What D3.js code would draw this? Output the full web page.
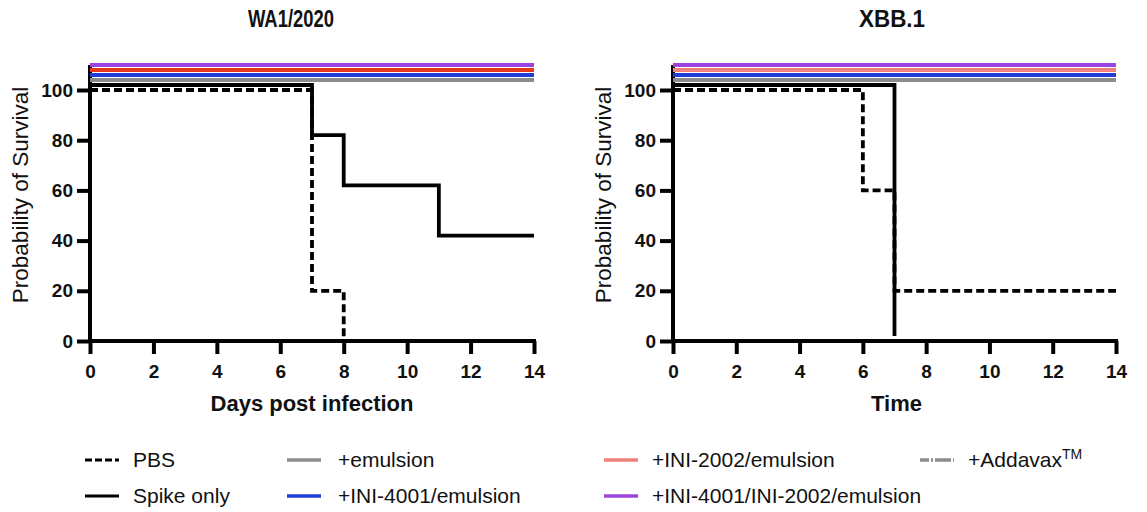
<!DOCTYPE html>
<html><head><meta charset="utf-8">
<script src="https://cdn.jsdelivr.net/npm/d3@7"></script>
<style>body{margin:0;background:#fff}svg{display:block}</style>
</head><body>
<svg id="c" width="1147" height="512"></svg>
<script>
// ---- data ----
const panelTitles = ["WA1/2020", "XBB.1"];
const xTitles = ["Days post infection", "Time"];
const xTicks = [0, 2, 4, 6, 8, 10, 12, 14];
const yTicks = [0, 20, 40, 60, 80, 100];
const groups = ["PBS", "Spike only", "+emulsion", "+INI-4001/emulsion", "+INI-2002/emulsion", "+INI-4001/INI-2002/emulsion", "+Addavax"];
// visual stacking offset used by the original plot (percentage points)
const groupOffset = [0, 2, 4, 6, 8, 10, 4];
// survival step data (time in days, % surviving)
const wa_PBS_t = [0, 7, 8];          const wa_PBS_s = [100, 20, 0];
const wa_Spike_t = [0, 7, 8, 11, 14]; const wa_Spike_s = [100, 80, 60, 40, 40];
const xbb_PBS_t = [0, 6, 7, 14];      const xbb_PBS_s = [100, 60, 20, 20];
const xbb_Spike_t = [0, 7];           const xbb_Spike_s = [100, 0];
const full_t = [0, 14];               const full_s = [100, 100];

const colorsLeft = ["#000", "#000", "#8c8c8c", "#1f3fd8", "#e8381e", "#9b44e0"];
const colorsRight = ["#000", "#000", "#8c8c8c", "#1f3fd8", "#f08078", "#9b44e0"];

const panels = [
  {x0: 90, x1: 534, tx: 291, title: panelTitles[0], tw: 86, xt: xTitles[0], colors: colorsLeft,
   series: [[wa_PBS_t, wa_PBS_s], [wa_Spike_t, wa_Spike_s], [full_t, full_s], [full_t, full_s], [full_t, full_s], [full_t, full_s]]},
  {x0: 673, x1: 1116, tx: 892, title: panelTitles[1], tw: 66, xt: xTitles[1], colors: colorsRight,
   series: [[xbb_PBS_t, xbb_PBS_s], [xbb_Spike_t, xbb_Spike_s], [full_t, full_s], [full_t, full_s], [full_t, full_s], [full_t, full_s]]}
];

const svg = d3.select("#c");
const FONT = "'Liberation Sans', Arial, sans-serif";
const yB = 341, yT = 90;

panels.forEach(p => {
  const x = d3.scaleLinear().domain([0, 14]).range([p.x0, p.x1]);
  const y = d3.scaleLinear().domain([0, 100]).range([yB, yT]);
  const g = svg.append("g");

  // axes
  const xa = g.append("g").attr("transform", `translate(0,${yB})`)
    .call(d3.axisBottom(x).tickValues(xTicks).tickSize(13).tickPadding(11).tickFormat(d3.format("d")));
  const ya = g.append("g").attr("transform", `translate(${p.x0},0)`)
    .call(d3.axisLeft(y).tickValues(yTicks).tickSize(13).tickPadding(4).tickFormat(d3.format("d")));
  [xa, ya].forEach(a => {
    a.select(".domain").remove();
    a.selectAll(".tick line").attr("stroke", "#000").attr("stroke-width", 4);
    a.selectAll(".tick text").attr("fill", "#111").style("font-family", FONT)
      .style("font-size", "19px").style("font-weight", "bold");
  });
  // axis lines (thick)
  g.append("line").attr("x1", p.x0 - 2).attr("x2", p.x1 + 2).attr("y1", yB).attr("y2", yB)
    .attr("stroke", "#000").attr("stroke-width", 4);
  g.append("line").attr("x1", p.x0).attr("x2", p.x0).attr("y1", yB + 2).attr("y2", y(110))
    .attr("stroke", "#000").attr("stroke-width", 4);

  // curves
  const line = d3.line().curve(d3.curveStepAfter);
  const order = [2, 3, 4, 5, 1, 0];
  order.forEach(i => {
    const [ts, ss] = p.series[i];
    const pts = ts.map((t, k) => [x(t), y(ss[k] + groupOffset[i])]);
    g.append("path").attr("d", line(pts)).attr("fill", "none")
      .attr("stroke", p.colors[i]).attr("stroke-width", i <= 1 ? 3.8 : 4)
      .attr("stroke-dasharray", i === 0 ? "8,4" : null);
  });

  // titles
  g.append("text").attr("x", p.tx).attr("y", 27).attr("text-anchor", "middle")
    .attr("textLength", p.tw).attr("lengthAdjust", "spacingAndGlyphs")
    .style("font-family", FONT)
    .style("font-size", "24px").style("font-weight", "bold").attr("fill", "#111").text(p.title);
  g.append("text").attr("x", (p.x0 + p.x1) / 2 + (p.xt === "Time" ? 2 : 0)).attr("y", 411).attr("text-anchor", "middle")
    .style("font-family", FONT).style("font-size", "22px").style("font-weight", "bold")
    .attr("fill", "#111").text(p.xt);
  g.append("text").attr("transform", `translate(${p.x0 - 62},195) rotate(-90)`)
    .attr("text-anchor", "middle").style("font-family", FONT).style("font-size", "22.5px")
    .attr("fill", "#111").text("Probability of Survival");
});

// legend
const legendCols = [85, 85, 287, 287, 604, 604, 920];
const legendRows = [460, 496, 460, 496, 460, 496, 460];
const legColors = ["#000", "#000", "#8c8c8c", "#1f3fd8", "#f08078", "#9b44e0", "#8c8c8c"];
groups.forEach((name, i) => {
  const lx = legendCols[i], ly = legendRows[i];
  svg.append("line").attr("x1", lx).attr("x2", lx + 34).attr("y1", ly).attr("y2", ly)
    .attr("stroke", legColors[i]).attr("stroke-width", i <= 1 ? 3 : 3.5)
    .attr("stroke-dasharray", i === 0 ? "7,3" : i === 6 ? "9,2,2,2,7,0" : null);
  const t = svg.append("text").attr("x", lx + (i >= 2 && i <= 3 ? 51 : 48)).attr("y", ly + 7)
    .style("font-family", FONT).style("font-size", "21px").attr("fill", "#111").text(name);
  if (i === 6) t.append("tspan").attr("dy", -8).style("font-size", "14px").text("TM");
});
</script>
</body></html>
